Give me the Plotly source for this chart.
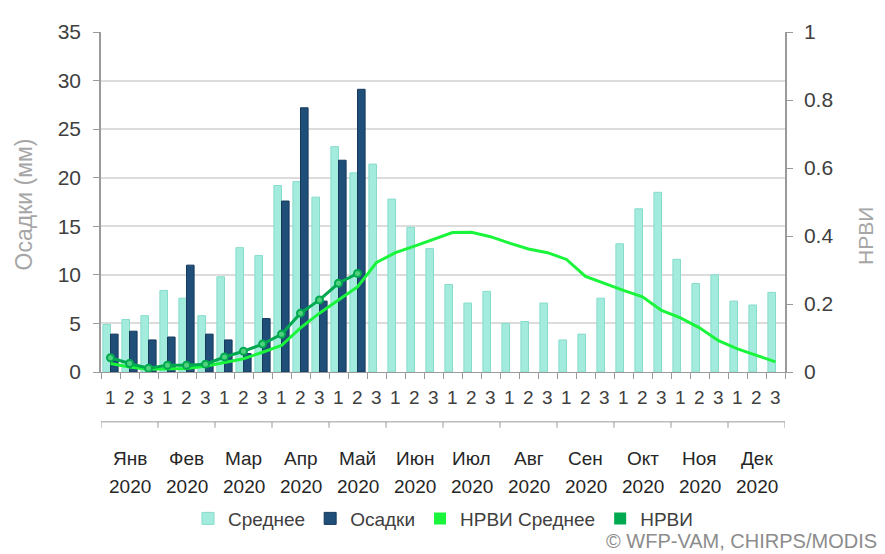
import plotly.graph_objects as go

months = ["Янв", "Фев", "Мар", "Апр", "Май", "Июн", "Июл", "Авг", "Сен", "Окт", "Ноя", "Дек"]
year_label = "2020"
dekads = ["1", "2", "3"]

rain_mean = [4.9, 5.4, 5.8, 8.4, 7.6, 5.8, 9.8, 12.8, 12.0, 19.2, 19.6, 18.0,
             23.2, 20.5, 21.4, 17.8, 14.9, 12.7, 9.0, 7.1, 8.3, 5.0, 5.2, 7.1,
             3.3, 3.9, 7.6, 13.2, 16.8, 18.5, 11.6, 9.1, 10.0, 7.3, 6.9, 8.2]
rain = [3.9, 4.2, 3.3, 3.6, 11.0, 3.9, 3.3, 1.9, 5.5, 17.6, 27.2, 7.3,
        21.8, 29.1]
ndvi_mean = [0.025, 0.015, 0.008, 0.010, 0.010, 0.017, 0.027, 0.039, 0.058,
             0.078, 0.130, 0.173, 0.212, 0.250, 0.322, 0.351, 0.370, 0.389,
             0.410, 0.411, 0.398, 0.379, 0.362, 0.351, 0.331, 0.281, 0.260,
             0.240, 0.221, 0.181, 0.159, 0.130, 0.092, 0.068, 0.049, 0.030]
ndvi = [0.042, 0.025, 0.011, 0.020, 0.020, 0.023, 0.044, 0.061, 0.082,
        0.111, 0.173, 0.212, 0.261, 0.290]

n = len(months) * len(dekads)
xs = list(range(n))

C_MEAN = "#a3ecdd"
C_RAIN = "#1f4e79"
C_NDVI_MEAN = "#1af53c"
C_NDVI = "#00a94f"
AXIS = "#9a9a9a"
GRID = "#dcdcdc"
TXT = "#404040"
SANS = "Liberation Sans, Arial, sans-serif"

fig = go.Figure()
fig.add_trace(go.Bar(x=xs, y=rain_mean, name="Среднее",
                     marker=dict(color=C_MEAN, line=dict(color="#86dccb", width=1))))
fig.add_trace(go.Bar(x=xs[:len(rain)], y=rain, name="Осадки",
                     marker=dict(color=C_RAIN, line=dict(color="#173a5c", width=1))))
fig.add_trace(go.Scatter(x=xs, y=ndvi_mean, yaxis="y2", mode="lines",
                         line=dict(color=C_NDVI_MEAN, width=3), showlegend=False))
fig.add_trace(go.Scatter(x=xs[:len(ndvi)], y=ndvi, yaxis="y2", mode="lines+markers",
                         line=dict(color=C_NDVI, width=3),
                         marker=dict(size=7, color="#4fd27e", line=dict(color=C_NDVI, width=2)),
                         showlegend=False))
# legend-only entries with square symbols
fig.add_trace(go.Scatter(x=[None], y=[None], mode="markers", name="НРВИ Среднее",
                         marker=dict(symbol="square", size=12, color=C_NDVI_MEAN)))
fig.add_trace(go.Scatter(x=[None], y=[None], mode="markers", name="НРВИ",
                         marker=dict(symbol="square", size=12, color=C_NDVI)))

boundaries = [i - 0.5 for i in range(n + 1)]

annotations = []
# dekad labels
for i in xs:
    annotations.append(dict(x=i, y=-0.075, xref="x", yref="paper", text=dekads[i % 3],
                            showarrow=False, xanchor="center", yanchor="middle",
                            font=dict(family=SANS, size=19, color=TXT)))
# month labels
for m, name in enumerate(months):
    cx = 3 * m + 1
    annotations.append(dict(x=cx, y=-0.253, xref="x", yref="paper", text=name,
                            showarrow=False, xanchor="center", yanchor="middle",
                            font=dict(family=SANS, size=19, color="#262626")))
    annotations.append(dict(x=cx, y=-0.336, xref="x", yref="paper", text=year_label,
                            showarrow=False, xanchor="center", yanchor="middle",
                            font=dict(family=SANS, size=19, color="#262626")))
# axis titles
annotations.append(dict(x=-0.112, y=0.494, xref="paper", yref="paper",
                        text="Осадки (мм)", textangle=-90, showarrow=False,
                        xanchor="center", yanchor="middle",
                        font=dict(family=SANS, size=23, color="#a6a6a6")))
annotations.append(dict(x=1.117, y=0.40, xref="paper", yref="paper",
                        text="НРВИ", textangle=-90, showarrow=False,
                        xanchor="center", yanchor="middle",
                        font=dict(family=SANS, size=21, color="#a6a6a6")))
annotations.append(dict(x=1.137, y=-0.497, xref="paper", yref="paper",
                        text="© WFP-VAM, CHIRPS/MODIS", showarrow=False,
                        xanchor="right", yanchor="middle",
                        font=dict(family=SANS, size=20, color="#8c8c8c")))

shapes = [dict(type="line", xref="x", yref="paper", x0=-0.5, x1=n - 0.5,
               y0=-0.1466, y1=-0.1466, line=dict(color=AXIS, width=1))]
for m in range(len(months) + 1):
    bx = 3 * m - 0.5
    shapes.append(dict(type="line", xref="x", yref="paper", x0=bx, x1=bx,
                       y0=-0.1466, y1=-0.164, line=dict(color=AXIS, width=1)))

fig.update_layout(
    width=885, height=554,
    margin=dict(l=93, r=108, t=16, b=190),
    paper_bgcolor="white", plot_bgcolor="white",
    barmode="group", bargap=0.2, bargroupgap=0.0,
    xaxis=dict(range=[-0.5, n - 0.5], tickmode="array", tickvals=boundaries,
               showticklabels=False, ticks="outside", ticklen=6, tickcolor=AXIS,
               showline=True, linecolor=AXIS, linewidth=1, showgrid=False,
               zeroline=False),
    yaxis=dict(range=[0, 35], dtick=5, ticks="outside", ticklen=6, tickcolor=AXIS,
               showline=True, linecolor=AXIS, linewidth=1.5, gridcolor=GRID,
               gridwidth=1.5, zeroline=False, ticklabelstandoff=8,
               tickfont=dict(family=SANS, size=21, color=TXT)),
    yaxis2=dict(range=[0, 1], dtick=0.2, overlaying="y", side="right",
                ticks="outside", ticklen=6, tickcolor=AXIS, showline=True,
                linecolor=AXIS, linewidth=1.5, showgrid=False, zeroline=False,
                ticklabelstandoff=7,
                tickfont=dict(family=SANS, size=21, color=TXT)),
    legend=dict(orientation="h", x=0.5, xanchor="center", y=-0.431, yanchor="middle",
                font=dict(family=SANS, size=19, color=TXT),
                itemwidth=30, tracegroupgap=0, bgcolor="rgba(0,0,0,0)"),
    annotations=annotations,
    shapes=shapes,
    showlegend=True,
)

fig.write_html("out.html")
